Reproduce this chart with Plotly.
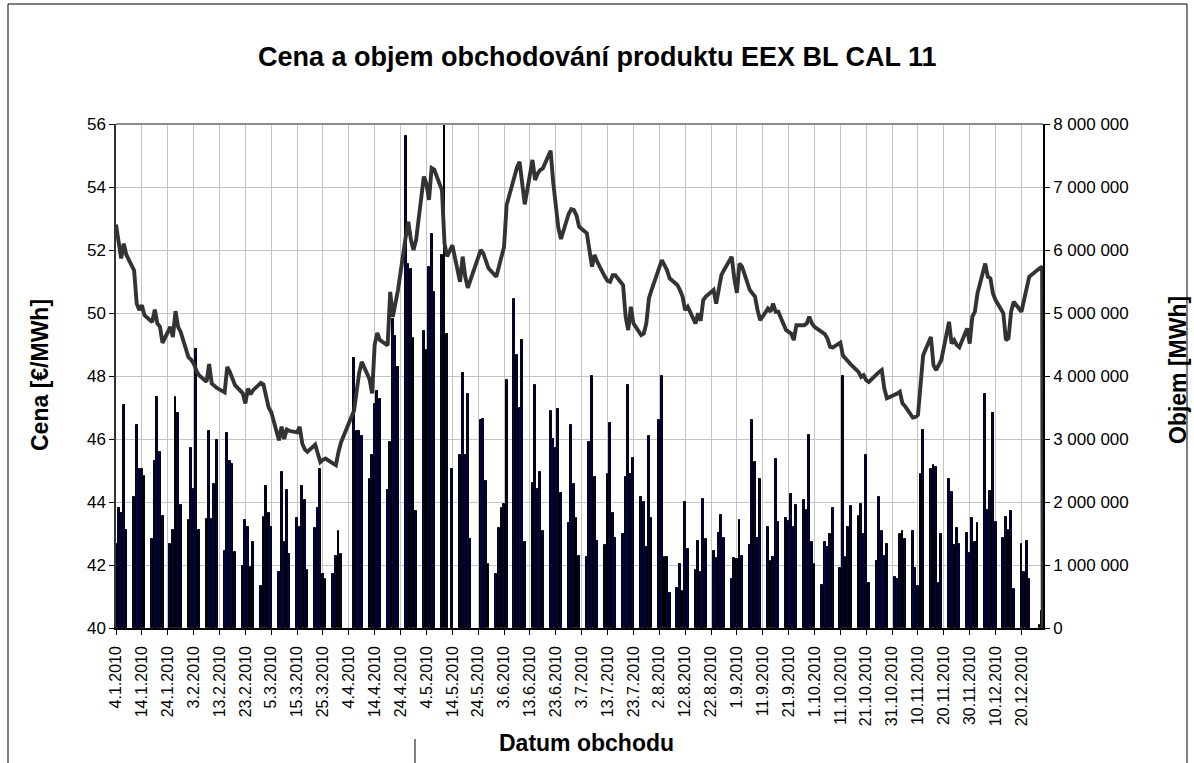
import plotly.graph_objects as go
import pandas as pd

# ---------------- data (one row per week, Mon..Fri; None = no trading) ----------------
first_monday = pd.Timestamp("2010-01-04")

# traded volume [MWh]
vol_q1 = [
    1340000, 1910000, 1830000, 3540000, 1560000,
    2080000, 3220000, 2530000, 2530000, 2420000,
    1410000, 2650000, 3670000, 2800000, 1780000,
    1340000, 1550000, 3670000, 3420000, 1960000,
    1710000, 2850000, 2200000, 4430000, 1550000,
    1730000, 3120000, 1730000, 2280000, 2980000,
    1230000, 3100000, 2650000, 2600000, 1210000,
    980000, 1710000, 1600000, 970000, 1360000,
    670000, 1760000, 2260000, 1830000, 1600000,
    890000, 2480000, 1360000, 2190000, 1180000,
    1740000, 1600000, 2260000, 2030000, 920000,
    1590000, 1910000, 2530000, 860000, 780000,
    860000, 1140000, 1540000, 1180000, None,
]
vol_q2 = [
    None, 4280000, 3120000, 3120000, 3040000,
    2360000, 2750000, 3550000, 3760000, 3640000,
    2190000, 2950000, 4910000, 4630000, 4140000,
    7810000, 5780000, 5700000, 4610000, 1860000,
    4720000, 4420000, 5730000, 6250000, 5330000,
    5920000, 8200000, 4660000, None, 2530000,
    2750000, 4040000, 2750000, 3720000, 1410000,
    None, 3300000, 3320000, 2330000, 1010000,
    860000, 1580000, 1910000, 1970000, 3940000,
    5230000, 4340000, 3490000, 4570000, 1360000,
    2300000, 3860000, 2200000, 2480000, 1540000,
    3440000, 3000000, 2850000, 3470000, 2150000,
    1660000, 3220000, 2280000, 1740000, 1140000,
]
vol_q3 = [
    1120000, 2950000, 4000000, 2400000, 1380000,
    1310000, 2450000, 3250000, 1830000, 1430000,
    1490000, 2400000, 3860000, 2450000, 2700000,
    2080000, 2000000, 1290000, 3040000, 1750000,
    3300000, 4000000, 1120000, 1120000, 550000,
    640000, 1010000, 590000, 2000000, 1260000,
    920000, 1380000, 890000, 2050000, 1410000,
    1230000, 1110000, 1510000, 1800000, 1430000,
    770000, 1110000, 1090000, 1710000, 1140000,
    1310000, 3300000, 2630000, 1430000, 2360000,
    1610000, 1060000, 1120000, 2680000, 1680000,
    1750000, 1700000, 2120000, 1600000, 1960000,
    2030000, 1880000, 3070000, 1360000, 1010000,
]
vol_q4 = [
    690000, 1360000, 1290000, 1490000, 1910000,
    960000, 4000000, 1120000, 1610000, 1940000,
    1780000, 1970000, 1490000, 2750000, 720000,
    1060000, 2080000, 1540000, 1140000, 1340000,
    810000, 770000, 1490000, 1540000, 1410000,
    1540000, 960000, 670000, 2450000, 3150000,
    2530000, 2590000, 2550000, 720000, 1490000,
    2370000, 2160000, 1320000, 1580000, 1340000,
    1510000, 1190000, 1740000, 1370000, 1660000,
    3720000, 1880000, 2180000, 3420000, 1680000,
    1430000, 1760000, 1550000, 1860000, 620000,
    1340000, 890000, 1380000, 770000, None,
    40000, 270000, None, None, None,
]

# settlement price [EUR/MWh]
price_q1 = [
    52.81, 52.26, 51.73, 52.20, 51.85,
    51.35, 50.30, 50.09, 50.25, 49.93,
    49.71, 50.11, 49.67, 49.56, 49.05,
    49.56, 49.24, 50.06, 49.56, 49.40,
    48.60, 48.52, 48.40, 48.19, 48.03,
    47.82, 48.38, 47.76, 47.68, 47.62,
    47.48, 48.29, 48.13, 47.92, 47.71,
    47.45, 47.13, 47.60, 47.42, 47.55,
    47.78, 47.73, 47.34, 47.00, 46.86,
    45.96, 46.39, 46.00, 46.30, 46.26,
    46.21, 46.39, 45.86, 45.67, 45.59,
    45.82, 45.54, 45.27, 45.34, 45.38,
    45.22, 45.17, 45.59, 45.90, None,
]
price_q2 = [
    None, 46.90, 47.50, 48.10, 48.45,
    47.90, 47.45, 49.00, 49.37, 49.14,
    48.97, 50.67, 49.88, 50.30, 50.73,
    52.42, 52.90, 52.32, 52.00, 52.32,
    54.33, 54.10, 53.59, 54.60, 54.55,
    53.90, 52.20, 51.80, None, 52.15,
    50.99, 51.79, 51.15, 50.80, 51.04,
    None, 52.00, 51.89, 51.68, 51.42,
    51.15, 51.47, 51.79, 52.10, 53.43,
    54.33, 54.62, 54.80, 54.00, 53.45,
    54.86, 54.22, 54.43, 54.54, 54.59,
    55.15, 54.15, 53.30, 52.70, 52.35,
    53.15, 53.30, 53.27, 53.10, 52.74,
]
price_q3 = [
    52.53, 52.00, 51.47, 51.84, 51.63,
    51.15, 51.02, 50.99, 51.20, 51.20,
    50.89, 49.88, 49.46, 50.20, 49.67,
    49.30, 49.35, 49.67, 50.46, 50.73,
    51.47, 51.68, 51.52, 51.36, 51.10,
    50.89, 50.73, 50.52, 50.09, 50.20,
    49.67, 49.99, 49.75, 50.41, 50.52,
    50.73, 50.30, 50.73, 51.20, 51.36,
    51.79, 51.10, 50.64, 51.57, 51.47,
    50.73, 50.62, 50.52, 50.09, 49.77,
    50.14, 50.04, 50.30, 50.04, 50.04,
    49.46, 49.40, 49.35, 49.14, 49.61,
    49.61, 49.67, 49.88, 49.67, 49.56,
]
price_q4 = [
    49.40, 49.33, 49.19, 48.93, 48.90,
    49.06, 48.65, 48.55, 48.45, 48.37,
    48.13, 47.97, 48.03, 47.87, 47.81,
    48.08, 48.13, 48.19, 47.60, 47.29,
    47.39, 47.44, 47.50, 47.13, 47.04,
    46.68, 46.70, 46.76, 47.71, 48.66,
    49.24, 48.34, 48.19, 48.34, 48.50,
    49.72, 49.03, 49.14, 48.98, 48.91,
    49.51, 49.03, 49.88, 50.04, 50.62,
    51.57, 51.15, 51.10, 50.62, 50.41,
    49.99, 49.14, 49.20, 50.04, 50.36,
    50.04, 50.41, 50.83, 51.15, None,
    51.42, 51.47, 0.00, None, None,
]

title_text = "Cena a objem obchodování produktu EEX BL CAL 11"
x_title = "Datum obchodu"
y_left_title = "Cena [€/MWh]"
y_right_title = "Objem [MWh]"


def to_series(values):
    xs, ys = [], []
    for i, v in enumerate(values):
        if v is None:
            continue
        xs.append(first_monday + pd.Timedelta(days=7 * (i // 5) + i % 5))
        ys.append(v)
    return xs, ys


vol_x, vol_y = to_series(vol_q1 + vol_q2 + vol_q3 + vol_q4)
pr_x, pr_y = to_series(price_q1 + price_q2 + price_q3 + price_q4)

# ---------------- layout geometry (pixels) ----------------
W, H = 1194, 763
L, R, T, B = 116, 1043, 124, 628


def px(x):
    return (x - L) / (R - L)


def py(y):
    return (B - y) / (B - T)


FONT = "Liberation Sans, Arial, sans-serif"
DAY = 86400000

fig = go.Figure()
fig.add_trace(go.Bar(
    x=vol_x, y=vol_y, yaxis="y", width=0.72 * DAY,
    marker=dict(color="#000060", line=dict(color="#000000", width=1)),
    showlegend=False, hoverinfo="x+y",
))
fig.add_trace(go.Scatter(
    x=pr_x, y=pr_y, yaxis="y2", mode="lines",
    line=dict(color="#333333", width=3.9),
    showlegend=False,
))

fig.update_layout(
    width=W, height=H,
    margin=dict(l=L, r=W - R, t=T, b=H - B, pad=0),
    paper_bgcolor="white", plot_bgcolor="white",
    separators=", ",
    font=dict(family=FONT, color="black", size=16),
    bargap=0,
    xaxis=dict(
        type="date",
        range=["2010-01-04 00:00", "2010-12-28 08:00"],
        tick0="2010-01-04", dtick=10 * DAY,
        tickformat="%-d.%-m.%Y", tickangle=-90,
        tickfont=dict(size=16, family=FONT),
        showgrid=True, gridcolor="#c4c4c4", gridwidth=1,
        showline=True, linecolor="black", linewidth=1.5,
        ticks="outside", ticklen=5, tickcolor="black",
        ticklabelstandoff=5,
        zeroline=False,
    ),
    yaxis=dict(
        range=[0, 8000000], dtick=1000000, tickformat=",d",
        side="right",
        showgrid=True, gridcolor="#c4c4c4", gridwidth=1,
        showline=True, linecolor="black", linewidth=1.5,
        ticks="outside", ticklen=5, tickcolor="black",
        tickfont=dict(size=17, family=FONT),
        zeroline=False,
    ),
    yaxis2=dict(
        range=[40, 56], dtick=2, overlaying="y", side="left",
        showgrid=False,
        showline=True, linecolor="#333333", linewidth=1.5,
        ticks="outside", ticklen=5, tickcolor="black",
        tickfont=dict(size=17, family=FONT),
        zeroline=False,
    ),
    annotations=[
        dict(text="<b>" + title_text + "</b>", xref="paper", yref="paper",
             x=px(597), y=py(57), showarrow=False, font=dict(size=27, family=FONT),
             xanchor="center", yanchor="middle"),
        dict(text="<b>" + x_title + "</b>", xref="paper", yref="paper",
             x=px(586), y=py(743), showarrow=False, font=dict(size=23, family=FONT),
             xanchor="center", yanchor="middle"),
        dict(text="<b>" + y_left_title + "</b>", xref="paper", yref="paper",
             x=px(40), y=py(375), showarrow=False, textangle=-90,
             font=dict(size=23, family=FONT), xanchor="center", yanchor="middle"),
        dict(text="<b>" + y_right_title + "</b>", xref="paper", yref="paper",
             x=px(1178), y=py(370), showarrow=False, textangle=-90,
             font=dict(size=23, family=FONT), xanchor="center", yanchor="middle"),
    ],
    shapes=[
        # top border of plot area
        dict(type="line", xref="paper", yref="paper", x0=0, x1=1, y0=1, y1=1,
             line=dict(color="#8c8c8c", width=2)),
        # outer chart frame
        dict(type="line", xref="paper", yref="paper", x0=px(8), x1=px(1187),
             y0=py(4), y1=py(4), line=dict(color="black", width=1)),
        dict(type="line", xref="paper", yref="paper", x0=px(8), x1=px(8),
             y0=py(4), y1=py(763), line=dict(color="black", width=1)),
        dict(type="line", xref="paper", yref="paper", x0=px(1187), x1=px(1187),
             y0=py(4), y1=py(763), line=dict(color="black", width=1)),
        # short stroke at the bottom edge of the frame
        dict(type="line", xref="paper", yref="paper", x0=px(415), x1=px(415),
             y0=py(739), y1=py(763), line=dict(color="black", width=1)),
    ],
)

fig.write_html(
    "out.html",
    config={"displayModeBar": False},
    post_script="document.body.style.margin='0px';",
)
